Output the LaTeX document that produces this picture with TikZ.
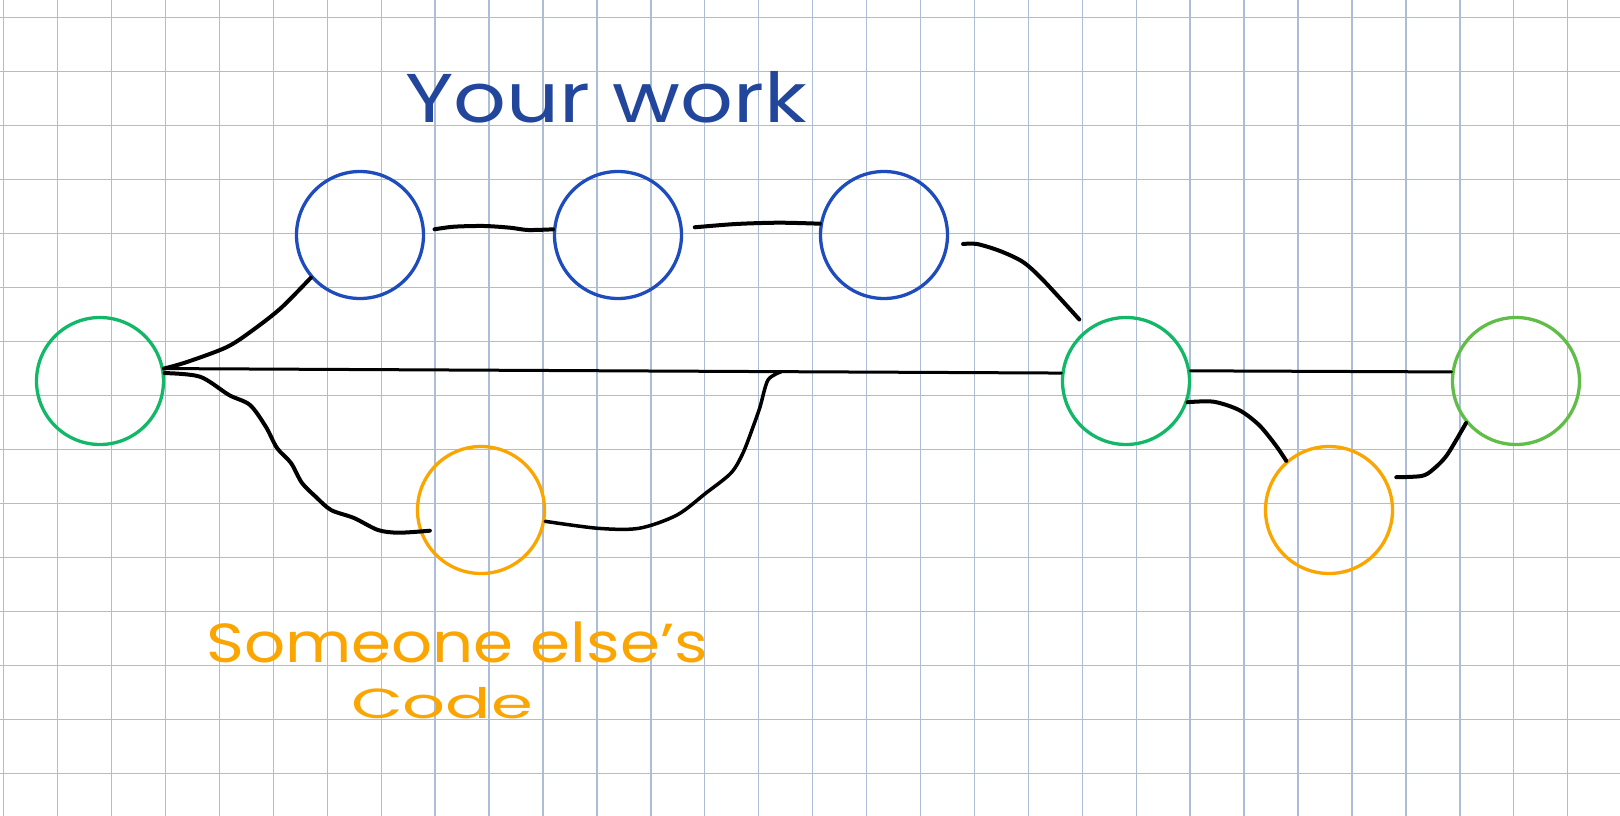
\documentclass[tikz,border=0pt]{standalone}
\usepackage{fontspec}
\newfontfamily\hand{Poppins}
\usetikzlibrary{calc}
\definecolor{gridc}{RGB}{172,189,217}
\definecolor{cblue}{RGB}{30,76,188}
\definecolor{tblue}{RGB}{34,70,155}
\definecolor{cgreen}{RGB}{18,184,104}
\definecolor{clgreen}{RGB}{96,190,72}
\definecolor{corange}{RGB}{250,165,0}
\tikzset{
  commit/.style={circle, draw, line width=3.3pt, minimum size=127pt, inner sep=0pt},
  link/.style={draw=black, line width=4pt, line cap=round, line join=round},
  thinlink/.style={draw=black, line width=3pt, line cap=round},
  gridline/.style={draw=gridc, line width=1.4pt},
}
\begin{document}
\begin{tikzpicture}[x=1pt, y=-1pt]
\useasboundingbox (0,0) rectangle (1620,816);
\fill[white] (0,0) rectangle (1620,816);
% grid
\foreach \i in {0,...,30} {
  \draw[gridline] ({3.7+53.93*\i},0) -- ({3.7+53.93*\i},816);
}
\foreach \j in {0,...,14} {
  \draw[gridline] (0,{17.3+54*\j}) -- (1620,{17.3+54*\j});
}
% commits
\node[commit, draw=cgreen] (g1) at (100,381) {};
\node[commit, draw=cblue] (b1) at (360,235) {};
\node[commit, draw=cblue] (b2) at (618,235) {};
\node[commit, draw=cblue] (b3) at (884,235) {};
\node[commit, draw=corange] (o1) at (481,510) {};
\node[commit, draw=cgreen] (g2) at (1126,381) {};
\node[commit, draw=corange] (o2) at (1329,510) {};
\node[commit, draw=clgreen] (lg) at (1516,381) {};
% free ends
\coordinate (b1s) at ($(b1.east)+(9.4,-5.7)$);
\coordinate (b2s) at ($(b2.east)+(11.6,-7.7)$);
\coordinate (b3s) at ($(b3.east)+(13.9,9)$);
\coordinate (g2e) at ($(g2.127)+(-7.5,-9.5)$);
\coordinate (o1e) at ($(o1.west)+(14,20.7)$);
\coordinate (o2s) at ($(o2.26)+(8.7,-4.2)$);
% main line
\draw[thinlink] (g1.11) -- (g2.173) coordinate[pos=0.688] (m);
% connectors
\draw[link] plot[smooth] coordinates {(g1.11) (187,362) (227,347) (253,330) (281,308) (b1.221)};
\draw[link] plot[smooth] coordinates {(b1s) (454,226.7) (484,226) (510,227.7) (528,230) (b2.175)};
\draw[link] plot[smooth] coordinates {(b2s) (736,224) (779,222.7) (b3.170)};
\draw[link] plot[smooth] coordinates {(b3s) (977,244) (1000,251) (1023,262) (1043,280) (g2e)};
\draw[link] plot[smooth] coordinates {(g1.7) (200,376.7) (229,395) (250,405) (266,427) (277,448) (291,463) (302,483) (316,497) (331,510) (354,518) (378,530) (399,532.7) (o1e)};
\draw[link, line width=3.5pt] plot[smooth] coordinates {(o1.350) (598,528.3) (639,528.3) (677,515) (706,493) (731,473) (743,453) (753,427) (760,407) (768,380) (m)};
\draw[thinlink] (g2.9) -- (lg.172);
\draw[link] plot[smooth] coordinates {(g2.341) (1213.5,401.7) (1239,410) (1259,425) (1275.5,445) (o2.131)};
\draw[link] plot[smooth] coordinates {(o2s) (1421.5,476) (1432.4,470) (1447,455) (lg.220)};
% labels
\node[anchor=base, text=tblue, inner sep=0pt] (yw) at (606,122) {\scalebox{1.2}[1]{\fontsize{69}{80}\hand Your work}};
\node[anchor=base, text=corange, inner sep=0pt] (se) at (457,662) {\scalebox{1.17}[1]{\fontsize{55}{64}\hand Someone else’s}};
\node[anchor=base, text=corange, inner sep=0pt] (cd) at (442,718) {\scalebox{1.6}[1]{\fontsize{42}{50}\hand Code}};
\end{tikzpicture}
\end{document}
